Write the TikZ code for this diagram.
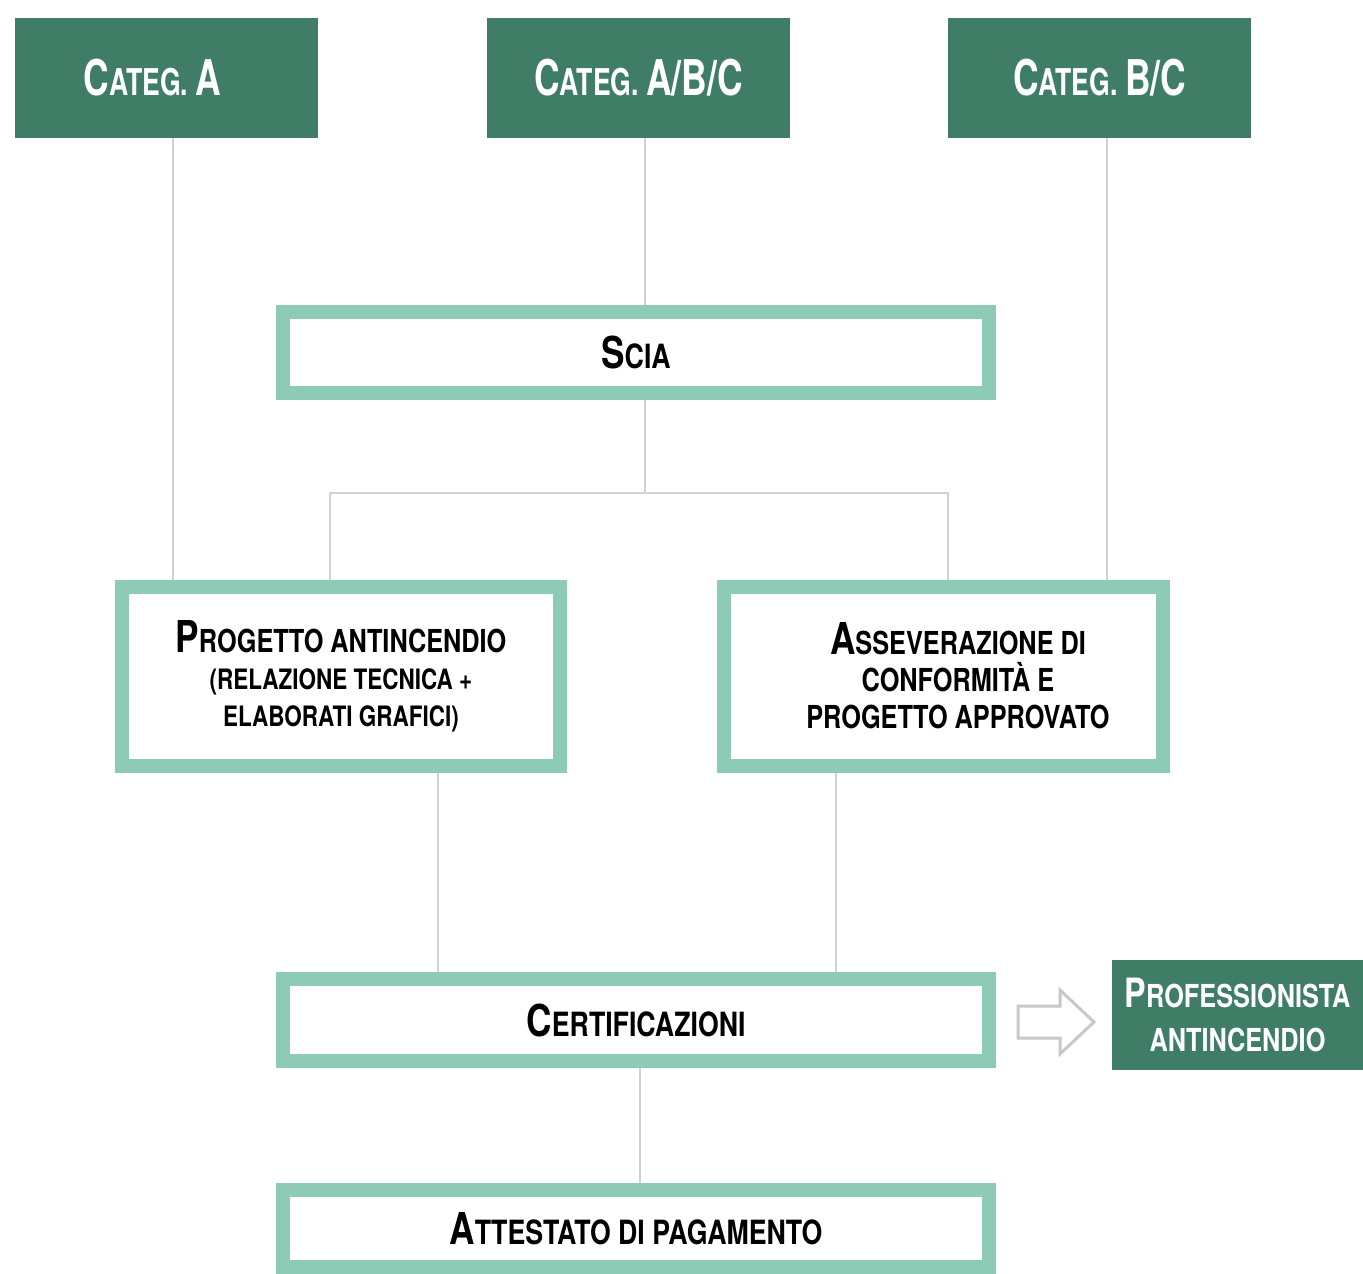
\documentclass[tikz,border=0pt]{standalone}
\usepackage{fontspec}
\setmainfont{TeX Gyre Heros}[FakeStretch=0.8]
\newfontfamily\catfont{TeX Gyre Heros}[FakeStretch=0.72]
\usetikzlibrary{backgrounds,calc}
\definecolor{dgreen}{HTML}{3F7D66}
\definecolor{lteal}{HTML}{8DCBB7}
\definecolor{cgray}{HTML}{D2D2D2}
\definecolor{agray}{HTML}{C8C8C8}
\newdimen\pxd \pxd=0.02cm
\newcommand\Sz[2]{{\fontsize{#1}{#1}\selectfont #2}}
\tikzset{
  darkbox/.style={fill=dgreen, draw=none, text=white, inner sep=0pt, align=center,
    font=\catfont\bfseries\fontsize{21}{25}\selectfont},
  whitebox/.style={fill=white, draw=lteal, line width=14\pxd, inner sep=0pt, align=center,
    font=\bfseries\fontsize{19}{21}\selectfont},
  boxtext/.style={inner sep=0pt, align=center, font=\bfseries\fontsize{18}{21}\selectfont},
  conn/.style={draw=cgray, line width=2.2\pxd},
  hollowarrow/.style={draw=agray, line width=3\pxd, fill=white, line join=miter}
}
\begin{document}
\begin{tikzpicture}[x=0.02cm, y=-0.02cm]
\useasboundingbox (0,0) rectangle (1363,1274);
% top category boxes
\node[darkbox, minimum width=303\pxd, minimum height=120\pxd] (catA) at (166.5,78) {\Sz{28}{C}ATEG. \Sz{28}{A}\hspace*{28\pxd}};
\node[darkbox, minimum width=303\pxd, minimum height=120\pxd] (catABC) at (638.5,78) {\Sz{28}{C}ATEG. \Sz{28}{A/B/C}};
\node[darkbox, minimum width=303\pxd, minimum height=120\pxd] (catBC) at (1099.5,78) {\Sz{28}{C}ATEG. \Sz{28}{B/C}};
% white boxes
\node[whitebox, minimum width=706\pxd, minimum height=81\pxd] (scia) at (636,352.5) {\Sz{25}{S}CIA};
\node[whitebox, minimum width=438\pxd, minimum height=179\pxd, font=\bfseries\fontsize{18}{21}\selectfont] (prog) at (341,676.5)
  {\Sz{25}{P}ROGETTO ANTINCENDIO\\{\fontsize{16}{21}\selectfont (RELAZIONE TECNICA +}\\{\fontsize{16}{21}\selectfont ELABORATI GRAFICI)}};
\node[whitebox, minimum width=439\pxd, minimum height=179\pxd] (ass) at (943.5,676.5) {};
\node[boxtext] (asstxt) at (958,676) {\Sz{25}{A}SSEVERAZIONE DI\\CONFORMITÀ E\\PROGETTO APPROVATO};
\node[whitebox, minimum width=706\pxd, minimum height=82\pxd] (cert) at (636,1020) {\Sz{25}{C}ERTIFICAZIONI};
\node[whitebox, minimum width=706\pxd, minimum height=77\pxd] (att) at (636,1228.5) {\Sz{25}{A}TTESTATO DI PAGAMENTO};
\node[darkbox, minimum width=251\pxd, minimum height=110\pxd, font=\bfseries\fontsize{18}{25}\selectfont] (prof) at (1237.5,1015)
  {\Sz{23}{P}ROFESSIONISTA\\ANTINCENDIO};
% helper coordinates
\coordinate (xa) at (173,0);
\coordinate (xm) at (645,0);
\coordinate (jx) at (645,493);
\coordinate (pl) at (330,0);
\coordinate (pr) at (948,0);
\coordinate (xb) at (1107,0);
\coordinate (xp) at (438,0);
\coordinate (xs) at (836,0);
\coordinate (xc) at (640,0);
% connectors
\begin{scope}[on background layer]
\draw[conn] (catA.south -| xa) -- (prog.north -| xa);
\draw[conn] (catABC.south -| xm) -- (scia.north -| xm);
\draw[conn] (scia.south -| xm) -- (jx);
\draw[conn] (jx) -- (jx -| pl) -- (prog.north -| pl);
\draw[conn] (jx) -- (jx -| pr) -- (ass.north -| pr);
\draw[conn] (catBC.south -| xb) -- (ass.north -| xb);
\draw[conn] (prog.south -| xp) -- (cert.north -| xp);
\draw[conn] (ass.south -| xs) -- (cert.north -| xs);
\draw[conn] (cert.south -| xc) -- (att.north -| xc);
\end{scope}
% hollow arrow
\draw[hollowarrow] ($(cert.east)+(22,-14)$) -- ($(cert.east)+(64,-14)$) -- ($(cert.east)+(64,-30)$)
  -- ($(cert.east)+(98,2)$) -- ($(cert.east)+(64,34)$) -- ($(cert.east)+(64,18)$)
  -- ($(cert.east)+(22,18)$) -- cycle;
\end{tikzpicture}
\end{document}
